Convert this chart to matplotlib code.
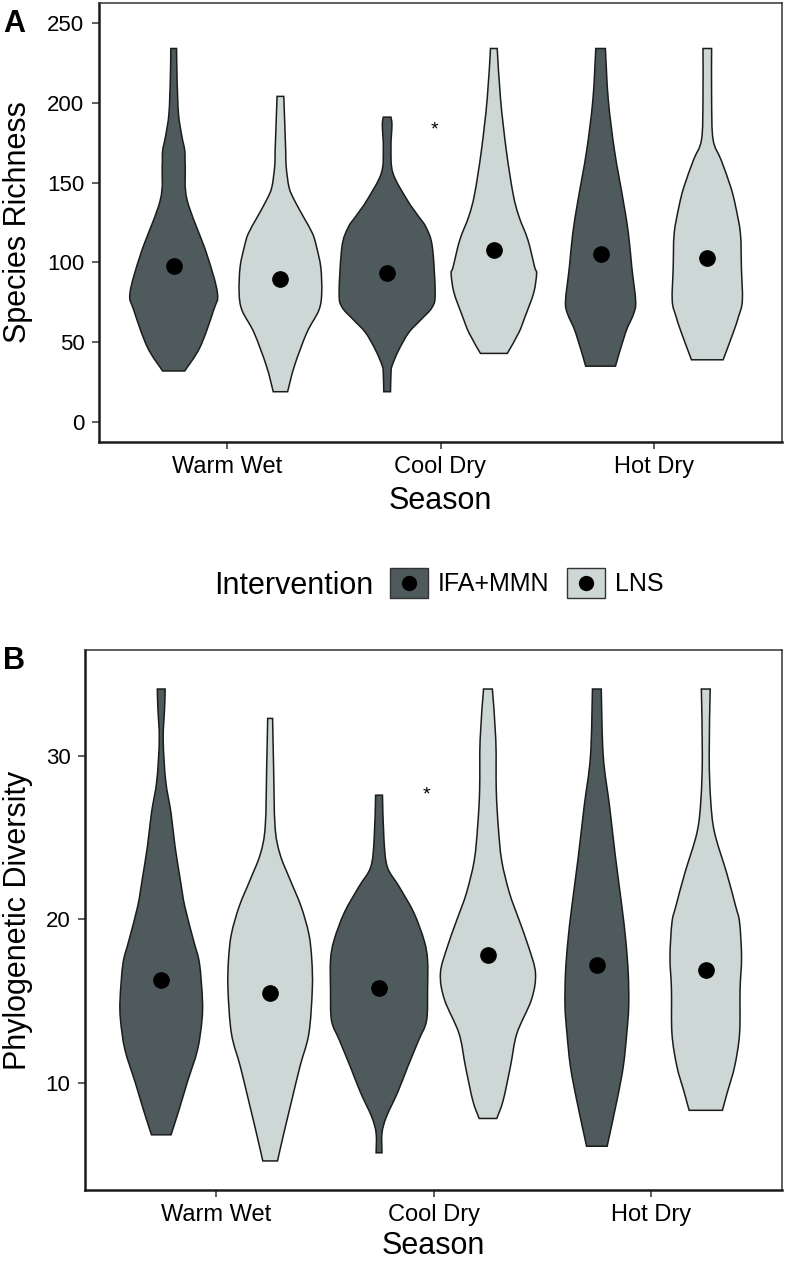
import numpy as np
import matplotlib
matplotlib.use("Agg")
import matplotlib.pyplot as plt
from matplotlib.patches import Patch, PathPatch, Rectangle
from matplotlib.path import Path
from matplotlib.lines import Line2D
from matplotlib.legend_handler import HandlerBase

plt.rcParams['font.family'] = ['Liberation Sans', 'DejaVu Sans']

seasons = ['Warm Wet', 'Cool Dry', 'Hot Dry']
groups = ['IFA+MMN', 'LNS']

# violin outlines: value levels and relative width (1 = widest)
# panel A, species richness
a_ww_ifa_y = [32, 47, 70, 81, 106, 139, 160, 170, 179, 193, 215, 234]
a_ww_ifa_w = [0.23, 0.55, 0.83, 0.91, 0.68, 0.28, 0.24, 0.23, 0.17, 0.10, 0.07, 0.06]
a_ww_lns_y = [19, 35, 56, 70, 81, 97, 110, 118, 128, 139, 147, 160, 170, 204]
a_ww_lns_w = [0.15, 0.29, 0.55, 0.80, 0.86, 0.84, 0.75, 0.67, 0.49, 0.29, 0.18, 0.12, 0.11, 0.07]
a_cd_ifa_y = [19, 30, 35, 45, 56, 64, 72, 81, 110, 122, 129, 139, 156, 172, 186, 191]
a_cd_ifa_w = [0.07, 0.08, 0.10, 0.24, 0.45, 0.70, 0.94, 1.00, 0.94, 0.81, 0.65, 0.42, 0.12, 0.08, 0.10, 0.08]
a_cd_lns_y = [43, 56, 66, 81, 93, 97, 114, 129, 143, 170, 202, 234]
a_cd_lns_w = [0.28, 0.52, 0.65, 0.83, 0.89, 0.85, 0.71, 0.52, 0.40, 0.26, 0.14, 0.07]
a_hd_ifa_y = [35, 56, 68, 76, 97, 118, 139, 170, 202, 234]
a_hd_ifa_w = [0.31, 0.52, 0.69, 0.73, 0.65, 0.58, 0.47, 0.29, 0.16, 0.10]
a_hd_lns_y = [39, 56, 66, 76, 97, 118, 135, 147, 164, 177, 202, 234]
a_hd_lns_w = [0.33, 0.54, 0.65, 0.73, 0.71, 0.69, 0.59, 0.49, 0.29, 0.12, 0.09, 0.09]
a_means_ifa = [97.7, 93.5, 105.3]
a_means_lns = [89.8, 107.8, 103.0]

# panel B, phylogenetic diversity
b_ww_ifa_y = [6.8, 8.3, 10.0, 12.0, 13.8, 15.1, 17.3, 18.7, 20.8, 22.4, 24.5, 26.5, 28.5, 31.0, 33.0, 34.1]
b_ww_ifa_w = [0.20, 0.36, 0.53, 0.74, 0.83, 0.84, 0.78, 0.66, 0.48, 0.39, 0.28, 0.20, 0.09, 0.04, 0.07, 0.08]
b_ww_lns_y = [5.2, 6.9, 8.9, 11.0, 13.0, 15.7, 17.5, 19.1, 20.8, 22.4, 24.0, 25.7, 29.4, 32.3]
b_ww_lns_w = [0.15, 0.28, 0.44, 0.61, 0.79, 0.86, 0.85, 0.79, 0.63, 0.41, 0.20, 0.10, 0.07, 0.05]
b_cd_ifa_y = [5.7, 6.9, 7.9, 9.4, 11.0, 12.6, 13.8, 15.7, 17.5, 18.7, 20.4, 22.0, 23.2, 24.9, 27.6]
b_cd_ifa_w = [0.06, 0.06, 0.15, 0.38, 0.59, 0.81, 0.97, 0.99, 0.99, 0.92, 0.71, 0.41, 0.17, 0.10, 0.07]
b_cd_lns_y = [7.8, 8.9, 11.0, 13.0, 15.1, 16.7, 18.3, 20.0, 21.6, 23.6, 25.7, 27.9, 31.0, 34.1]
b_cd_lns_w = [0.18, 0.31, 0.46, 0.59, 0.89, 0.97, 0.83, 0.63, 0.44, 0.28, 0.21, 0.17, 0.16, 0.09]
b_hd_ifa_y = [6.1, 8.9, 11.0, 13.0, 14.7, 16.7, 18.7, 20.8, 23.8, 26.9, 30.0, 34.1]
b_hd_ifa_w = [0.21, 0.41, 0.54, 0.61, 0.65, 0.64, 0.59, 0.51, 0.38, 0.26, 0.13, 0.09]
b_hd_lns_y = [8.3, 9.4, 11.0, 13.0, 15.7, 17.7, 19.8, 20.8, 22.8, 25.3, 27.3, 30.0, 34.1]
b_hd_lns_w = [0.34, 0.44, 0.59, 0.69, 0.70, 0.73, 0.69, 0.61, 0.43, 0.18, 0.10, 0.07, 0.09]
b_means_ifa = [16.3, 15.8, 17.2]
b_means_lns = [15.5, 17.8, 16.9]

sig_season = 'Cool Dry'
a_sig_y = 183
b_sig_y = 27.6

DARK = '#4E5A5C'
LIGHT = '#CDD7D6'
EDGE = '#1C1C1C'
HALF = 0.225      # half of the widest violin, in category units
DODGE = 0.25

W, H = 785, 1261
fig = plt.figure(figsize=(W / 100, H / 100), dpi=100)


def px_axes(left, top, right, bottom):
    return fig.add_axes([left / W, 1 - bottom / H, (right - left) / W, (bottom - top) / H])


def smooth_through(pts):
    # cubic segments (catmull-rom) running through the given outline points
    verts, codes = [], []
    n = len(pts)
    for i in range(n - 1):
        p0 = pts[i - 1] if i > 0 else pts[i]
        p1, p2 = pts[i], pts[i + 1]
        p3 = pts[i + 2] if i + 2 < n else pts[i + 1]
        verts += [p1 + (p2 - p0) / 6, p2 - (p3 - p1) / 6, p2]
        codes += [Path.CURVE4] * 3
    return verts, codes


def draw_violin(ax, xc, ys, ws, color):
    ys = np.asarray(ys, dtype=float)
    hw = np.asarray(ws) * HALF
    right = np.column_stack([xc + hw, ys])
    left = np.column_stack([xc - hw, ys])[::-1]
    verts, codes = [right[0]], [Path.MOVETO]
    v, c = smooth_through(right)
    verts += v; codes += c
    verts.append(left[0]); codes.append(Path.LINETO)
    v, c = smooth_through(left)
    verts += v; codes += c
    verts.append(right[0]); codes.append(Path.CLOSEPOLY)
    ax.add_patch(PathPatch(Path(verts, codes), facecolor=color, edgecolor=EDGE,
                           linewidth=1.1, zorder=2))


def style_axes(ax, yticks, ylim):
    ax.set_xlim(0.4, 3.6)
    ax.set_ylim(*ylim)
    ax.set_xticks([1, 2, 3])
    ax.set_xticklabels(seasons)
    ax.set_yticks(yticks)
    ax.tick_params(axis='both', length=5, width=1.1, color='#333333', labelcolor='black')
    ax.tick_params(axis='y', pad=5.5, labelsize=16)
    ax.tick_params(axis='x', pad=5, labelsize=17)
    for s in ['left', 'bottom']:
        ax.spines[s].set_linewidth(1.8)
        ax.spines[s].set_color('#1a1a1a')
    for s in ['top', 'right']:
        ax.spines[s].set_linewidth(1.1)
        ax.spines[s].set_color('#333333')


def draw_panel(ax, profiles, means_ifa, means_lns, sig_y):
    for i, season in enumerate(seasons):
        xc = i + 1
        (yi, wi), (yl, wl) = profiles[season]
        draw_violin(ax, xc - DODGE, yi, wi, DARK)
        draw_violin(ax, xc + DODGE, yl, wl, LIGHT)
    x = np.arange(1, 4)
    ax.plot(x - DODGE, means_ifa, 'o', color='black', markersize=11, zorder=3)
    ax.plot(x + DODGE, means_lns, 'o', color='black', markersize=11, zorder=3)
    ax.text(seasons.index(sig_season) + 1 - 0.03, sig_y, '*', ha='center', va='center',
            fontsize=14)


axA = px_axes(99, 3, 782, 442)
prof_a = {
    'Warm Wet': ((a_ww_ifa_y, a_ww_ifa_w), (a_ww_lns_y, a_ww_lns_w)),
    'Cool Dry': ((a_cd_ifa_y, a_cd_ifa_w), (a_cd_lns_y, a_cd_lns_w)),
    'Hot Dry': ((a_hd_ifa_y, a_hd_ifa_w), (a_hd_lns_y, a_hd_lns_w)),
}
draw_panel(axA, prof_a, a_means_ifa, a_means_lns, a_sig_y)
style_axes(axA, [0, 50, 100, 150, 200, 250], (-12.5, 262.5))

axB = px_axes(85, 650, 782, 1190)
prof_b = {
    'Warm Wet': ((b_ww_ifa_y, b_ww_ifa_w), (b_ww_lns_y, b_ww_lns_w)),
    'Cool Dry': ((b_cd_ifa_y, b_cd_ifa_w), (b_cd_lns_y, b_cd_lns_w)),
    'Hot Dry': ((b_hd_ifa_y, b_hd_ifa_w), (b_hd_lns_y, b_hd_lns_w)),
}
draw_panel(axB, prof_b, b_means_ifa, b_means_lns, b_sig_y)
style_axes(axB, [10, 20, 30], (3.42, 36.49))

# axis titles
fig.text(18 / W, 1 - 222 / H, 'Species Richness', rotation=90, ha='center', va='center',
         fontsize=22)
fig.text(18 / W, 1 - 920 / H, 'Phylogenetic Diversity', rotation=90, ha='center',
         va='center', fontsize=22)
fig.text(440 / W, 1 - 509 / H, 'Season', ha='center', va='baseline', fontsize=22)
fig.text(433 / W, 1 - 1254 / H, 'Season', ha='center', va='baseline', fontsize=22)

# panel tags
fig.text(3 / W, 1 - 32 / H, 'A', fontsize=22, fontweight='bold', va='baseline')
fig.text(3 / W, 1 - 669 / H, 'B', fontsize=22, fontweight='bold', va='baseline')


class BoxDot(HandlerBase):
    def create_artists(self, legend, orig_handle, xdescent, ydescent, width, height,
                       fontsize, trans):
        box = Rectangle((-xdescent, -ydescent), width, height,
                        facecolor=orig_handle.get_facecolor(), edgecolor='#333333',
                        linewidth=1.0, transform=trans)
        dot = Line2D([-xdescent + width / 2], [-ydescent + height / 2], marker='o',
                     ls='none', color='black', markersize=10, transform=trans)
        return [box, dot]


# legend
fig.text(373 / W, 1 - 594 / H, 'Intervention', ha='right', va='baseline', fontsize=22)
handles = [Patch(facecolor=DARK), Patch(facecolor=LIGHT)]
fig.legend(handles, groups, loc='center left', bbox_to_anchor=(390 / W, 1 - 583 / H),
           ncol=2, frameon=False, fontsize=18, borderpad=0, borderaxespad=0,
           handlelength=1.52, handleheight=1.52, handletextpad=0.4, columnspacing=0.7,
           handler_map={Patch: BoxDot()})

fig.savefig('out.png', dpi=100)
